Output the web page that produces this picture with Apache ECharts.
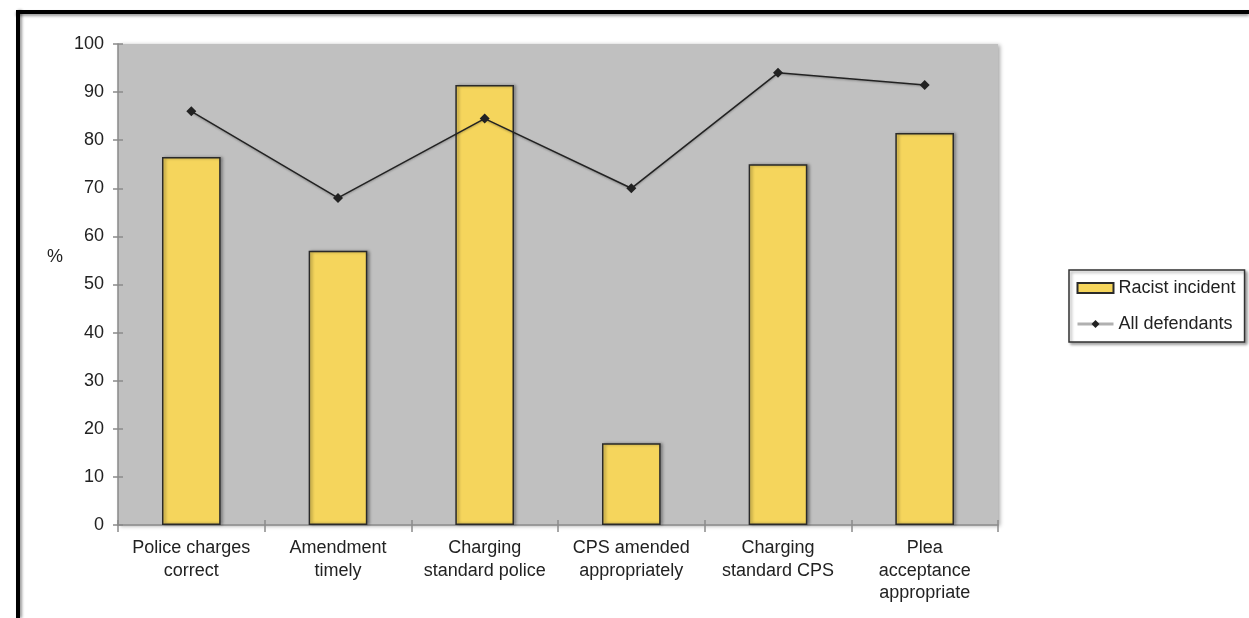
<!DOCTYPE html>
<html>
<head>
<meta charset="utf-8">
<script src="https://cdn.jsdelivr.net/npm/echarts@6/dist/echarts.min.js"></script>
<style>
  html, body { margin: 0; padding: 0; background: #fff; }
  #chart { width: 1249px; height: 618px; }
</style>
</head>
<body>
<div id="chart"></div>
<script>
const categories = ['Police charges\ncorrect', 'Amendment\ntimely', 'Charging\nstandard police', 'CPS amended\nappropriately', 'Charging\nstandard CPS', 'Plea\nacceptance\nappropriate']
const racistIncident = [76.5, 57, 91.5, 17, 75, 81.5]
const allDefendants = [86, 68, 84.5, 70, 94, 91.5]

const chart = echarts.init(document.getElementById('chart'))
const font = 'Liberation Sans, Arial, Helvetica, sans-serif'
const axisGray = '#8a8a8a'

chart.setOption({
  animation: false,
  textStyle: { fontFamily: font },
  grid: {
    left: 118, right: 251, top: 44, bottom: 93,
    show: true, backgroundColor: '#c0c0c0', borderWidth: 0,
    shadowColor: 'rgba(0,0,0,0.35)', shadowBlur: 4, shadowOffsetX: 2, shadowOffsetY: 1
  },
  legend: {
    left: 1069, top: 270,
    orient: 'vertical', padding: [9, 9, 9, 7], itemGap: 18,
    backgroundColor: '#fff', borderColor: '#333', borderWidth: 1.5,
    shadowColor: 'rgba(0,0,0,0.35)', shadowBlur: 3, shadowOffsetX: 2, shadowOffsetY: 2,
    itemWidth: 36, itemHeight: 10,
    textStyle: { fontSize: 18, color: '#222', fontFamily: font },
    data: [
      { name: 'Racist incident', icon: 'rect' },
      { name: 'All defendants', lineStyle: { color: '#b0b0b0', width: 3 } }
    ]
  },
  xAxis: [{
    type: 'category', data: categories,
    axisLine: { lineStyle: { color: axisGray, width: 1.5 } },
    axisTick: { show: true, length: 7, alignWithLabel: false, lineStyle: { color: axisGray, width: 1.5 } },
    axisLabel: { fontSize: 18, color: '#222', lineHeight: 22.5, margin: 12, interval: 0 },
    splitLine: { show: false }
  }, {
    type: 'category', data: categories, position: 'bottom',
    axisLine: { show: false }, axisLabel: { show: false },
    axisTick: { show: true, inside: true, length: 5, lineStyle: { color: axisGray, width: 1.5 } }
  }],
  yAxis: [{
    type: 'value', min: 0, max: 100, interval: 10,
    axisLine: { show: true, lineStyle: { color: axisGray, width: 1.5 } },
    axisTick: { show: true, length: 5, lineStyle: { color: axisGray, width: 1.5 } },
    axisLabel: { fontSize: 18, color: '#222', margin: 14 },
    splitLine: { show: false }
  }, {
    type: 'value', min: 0, max: 100, interval: 10, position: 'left',
    axisLine: { show: false }, axisLabel: { show: false }, splitLine: { show: false },
    axisTick: { show: true, inside: true, length: 5, lineStyle: { color: axisGray, width: 1.5 } }
  }],
  series: [
    {
      name: 'Racist incident', type: 'bar', data: racistIncident, barWidth: '40%',
      itemStyle: {
        color: '#f5d55c', borderColor: '#2a2a2a', borderWidth: 1.5,
        shadowColor: 'rgba(0,0,0,0.35)', shadowBlur: 3, shadowOffsetX: 2, shadowOffsetY: 0
      }
    },
    {
      name: 'All defendants', type: 'line', data: allDefendants,
      symbol: 'diamond', symbolSize: 10,
      lineStyle: { color: '#222', width: 1.5, shadowColor: 'rgba(0,0,0,0.3)', shadowBlur: 2, shadowOffsetY: 1 },
      itemStyle: { color: '#222' }
    }
  ],
  graphic: [
    { type: 'text', left: 47, top: 248, style: { text: '%', fontSize: 18, fill: '#222', fontFamily: font } },
    { type: 'line', shape: { x1: 16, y1: 12, x2: 1249, y2: 12 }, style: { stroke: '#000', lineWidth: 4, shadowColor: 'rgba(0,0,0,0.4)', shadowBlur: 3, shadowOffsetY: 2 } },
    { type: 'line', shape: { x1: 18, y1: 10, x2: 18, y2: 618 }, style: { stroke: '#000', lineWidth: 4, shadowColor: 'rgba(0,0,0,0.4)', shadowBlur: 3, shadowOffsetX: 2 } }
  ]
})

window.addEventListener('resize', () => chart.resize())
</script>
</body>
</html>
